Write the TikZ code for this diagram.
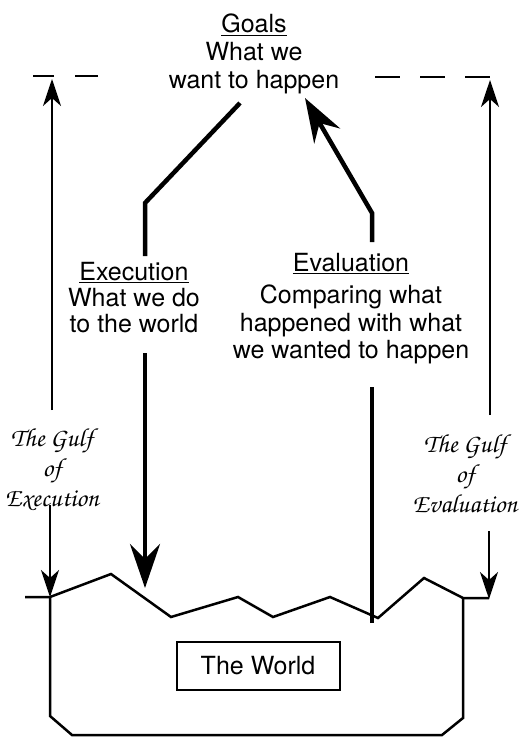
\documentclass[tikz,border=0pt]{standalone}
\usepackage[T1]{fontenc}
\usepackage{fontspec}
\setmainfont{TeX Gyre Heros}
\usetikzlibrary{arrows.meta}
\newcommand{\gulffont}{\fontencoding{T1}\fontfamily{pzc}\fontseries{mb}\fontshape{it}\fontsize{26}{30}\selectfont}
\tikzset{>={Stealth[length=27pt,width=18pt,inset=8pt]}}
\tikzset{
  stagetext/.style={align=center, inner sep=0pt, anchor=north, font=\fontsize{25}{27.5}\selectfont},
  gulftext/.style={align=center, inner sep=0pt, font=\gulffont},
  gulfline/.style={line width=2pt, ->},
  actline/.style={line width=4.5pt, -{Stealth[length=44pt,width=30pt,inset=15pt]}},
  worldline/.style={line width=2.5pt}
}

\begin{document}
\begin{tikzpicture}[x=1pt, y=-1pt]
\useasboundingbox (0,0) rectangle (519,738);

% the three stages
\node[stagetext, font=\fontsize{25}{28}\selectfont] (goals) at (254,14) {\underline{Goals}\\What we\\want to happen};
\node[stagetext, font=\fontsize{25}{26.5}\selectfont] (exec) at (134,262) {\underline{Execution}\\[-0.5pt]What we do\\to the world};
\node[stagetext] (eval) at (351,253) {\underline{Evaluation}\\[5pt]Comparing what\\happened with what\\we wanted to happen};

% the two gulfs
\node[gulftext] (gulfexec) at (52,470) {The Gulf\\of\\Execution};
\node[gulftext] (gulfeval) at (465,473) {The Gulf\\of\\Evaluation};

% the world
\draw[worldline] (25,597) -- (50,597) -- (111,574) -- (171,617) -- (238,597) -- (273,617)
  -- (330,597) -- (378,618) -- (424,578) -- (463,598) -- (489,598);
\draw[worldline] (50,598) -- (50,716) -- (72,735) -- (442,735) -- (463,718) -- (463,598);
\node[draw, line width=2pt, minimum width=163pt, minimum height=48pt, font=\fontsize{25}{28}\selectfont] (world) at (258,666) {The World};

% goal level
\draw[line width=2pt, dash pattern=on 25pt off 20pt] (375,77) -- (490,77);
\draw[line width=2pt, dash pattern=on 23pt off 21pt] (98,76) -- (33,76);

% gulf arrows
\coordinate (gxtop) at (52,79);
\coordinate (gxup) at (52,410);
\coordinate (gxdown) at (50,505);
\coordinate (gxworld) at (50,597);
\coordinate (gvtop) at (490,80);
\coordinate (gvup) at (490,415);
\coordinate (gvdown) at (489,531);
\coordinate (gvworld) at (489,599);
\draw[gulfline] (gxup) -- (gxtop);
\draw[gulfline] (gxdown) -- (gxworld);
\draw[gulfline] (gvup) -- (gvtop);
\draw[gulfline] (gvdown) -- (gvworld);

% execution
\coordinate (x1) at (240,103);
\coordinate (x2) at (145,203);
\coordinate (x3) at (145,256);
\coordinate (x4) at (145,353);
\coordinate (x5) at (145,588);
\draw[line width=4.5pt] (x1) -- (x2) -- (x3);
\draw[actline] (x4) -- (x5);

% evaluation
\coordinate (v1) at (372,623);
\coordinate (v2) at (372,387);
\coordinate (v3) at (372,242);
\coordinate (v4) at (372,213);
\coordinate (v5) at (305,98);
\draw[line width=4.5pt] (v1) -- (v2);
\draw[actline] (v3) -- (v4) -- (v5);
\end{tikzpicture}
\end{document}
